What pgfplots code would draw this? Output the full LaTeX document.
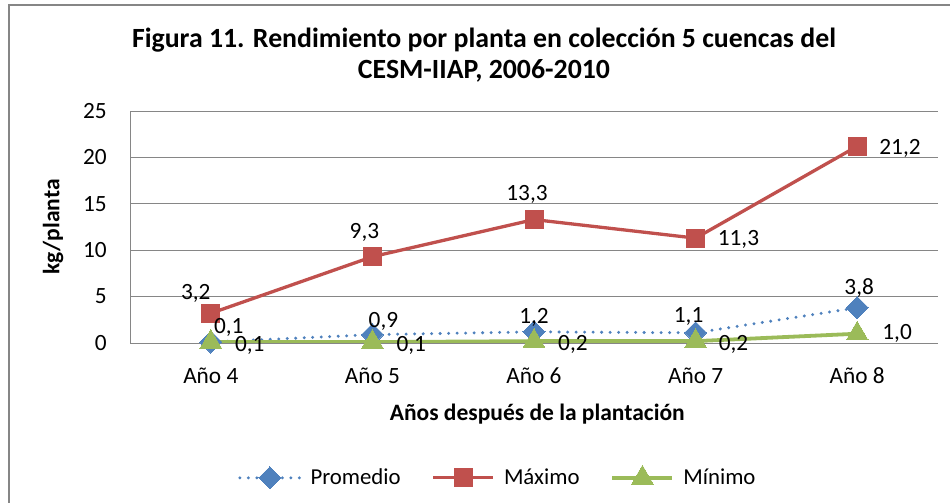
\documentclass[border=0pt]{standalone}
\usepackage{pgfplots}
\usepackage{pgfplotstable}
\pgfplotsset{compat=1.18}
\usepackage{fontspec}
\setmainfont{Carlito}
\definecolor{cblue}{HTML}{4F81BD}
\definecolor{cred}{HTML}{C0504D}
\definecolor{cgreen}{HTML}{9BBB59}
\definecolor{cgrid}{HTML}{868686}

\pgfplotstableread{
x y
0 0.1
1 0.9
2 1.2
3 1.1
4 3.8
}\promedio
\pgfplotstableread{
x y
0 3.2
1 9.3
2 13.3
3 11.3
4 21.2
}\maximo
\pgfplotstableread{
x y
0 0.1
1 0.1
2 0.2
3 0.2
4 1.0
}\minimo

\pgfplotsset{
  lab/.style n args={3}{
    forget plot, draw=none, mark=none,
    nodes near coords={\pgfmathprintnumber[fixed,fixed zerofill,precision=1,use comma]{\pgfplotspointmeta}},
    every node near coord/.append style={font=\fontsize{23.3}{27}\selectfont, text=black, anchor=#3, xshift=#1pt, yshift=#2pt, inner sep=0pt},
  }
}

\begin{document}
\begin{tikzpicture}
\useasboundingbox (0pt,0pt) rectangle (950pt,503pt);
\draw[cgrid, line width=2pt] (9pt,0pt) -- (9pt,498pt) -- (951pt,498pt);
\node[font=\bfseries\fontsize{27.8}{31}\selectfont, align=center] at (484pt,448pt)
  {Figura 11. Rendimiento por planta en colección 5 cuencas del\\CESM-IIAP, 2006-2010};
\begin{axis}[
  at={(130pt,160pt)}, anchor=south west,
  width=808pt, height=232pt, scale only axis,
  xmin=-0.5, xmax=4.5, ymin=0, ymax=25,
  xtick={0,1,2,3,4},
  xticklabels={Año 4,Año 5,Año 6,Año 7,Año 8},
  ytick={0,5,10,15,20,25},
  ymajorgrids, grid style={cgrid, line width=0.9pt},
  axis line style={draw=none},
  major tick length=0pt,
  tick label style={font=\fontsize{23.3}{27}\selectfont, inner sep=0pt},
  /pgf/number format/assume math mode=true,
  yticklabel style={anchor=east, xshift=-23pt},
  xticklabel style={anchor=base, yshift=-40pt},
  xlabel={Años después de la plantación},
  xlabel style={font=\bfseries\fontsize{23.5}{27}\selectfont, at={(axis description cs:0.504,-0.332)}, anchor=base, inner sep=0pt},
  ylabel={kg/planta},
  ylabel style={font=\bfseries\fontsize{23.5}{27}\selectfont, at={(axis description cs:-0.095,0.5)}, anchor=center, inner sep=0pt},
  legend columns=3,
  legend style={draw=none, fill=none, at={(axis description cs:0.1337,-0.578)}, anchor=west,
    font=\fontsize{22.8}{27}\selectfont, inner sep=0pt,
    nodes={inner sep=1pt},
    /tikz/every odd column/.append style={column sep=8pt},
    /tikz/every even column/.append style={column sep=30pt}},
  legend image code/.code={\draw[mark repeat=2,mark phase=2,#1] plot coordinates {(0pt,0pt) (30pt,0pt) (60pt,0pt)};},
]
\addplot[cblue, line width=3.3pt, line cap=round, dash pattern=on 0pt off 8.5pt, mark=square*, mark size=7.8pt, mark options={solid, rotate=45, fill=cblue, draw=cblue, line width=0pt}] table[x=x,y=y] {\promedio};
\addlegendentry{Promedio}
\addplot[cred, line width=3.3pt, mark=square*, mark size=9pt, mark options={solid, fill=cred, draw=cred, line width=0pt}] table[x=x,y=y] {\maximo};
\addlegendentry{Máximo}
\addplot[cgreen, line width=3.8pt, mark=triangle*, mark size=12.5pt, mark options={solid, fill=cgreen, draw=cgreen, line width=0pt}] table[x=x,y=y] {\minimo};
\addlegendentry{Mínimo}
% data labels: Promedio
\addplot[lab={18}{15}{center}] coordinates {(0,0.1)};
\addplot[lab={11}{13}{center}] coordinates {(1,0.9)};
\addplot[lab={0}{14}{center}] coordinates {(2,1.2)};
\addplot[lab={-7}{16}{center}] coordinates {(3,1.1)};
\addplot[lab={2}{20}{center}] coordinates {(4,3.8)};
% Maximo
\addplot[lab={-15}{20}{center}] coordinates {(0,3.2)};
\addplot[lab={-8}{24}{center}] coordinates {(1,9.3)};
\addplot[lab={-7}{25}{center}] coordinates {(2,13.3)};
\addplot[lab={22}{-1}{west}] coordinates {(3,11.3)};
\addplot[lab={22}{-2}{west}] coordinates {(4,21.2)};
% Minimo
\addplot[lab={24}{-3}{west}] coordinates {(0,0.1)};
\addplot[lab={24}{-3}{west}] coordinates {(1,0.1)};
\addplot[lab={24}{-3}{west}] coordinates {(2,0.2)};
\addplot[lab={23}{-3}{west}] coordinates {(3,0.2)};
\addplot[lab={25}{0}{west}] coordinates {(4,1.0)};
\draw[cgrid, line width=0.9pt] (rel axis cs:0,0) -- (rel axis cs:0,1);
\end{axis}
\end{tikzpicture}
\end{document}
